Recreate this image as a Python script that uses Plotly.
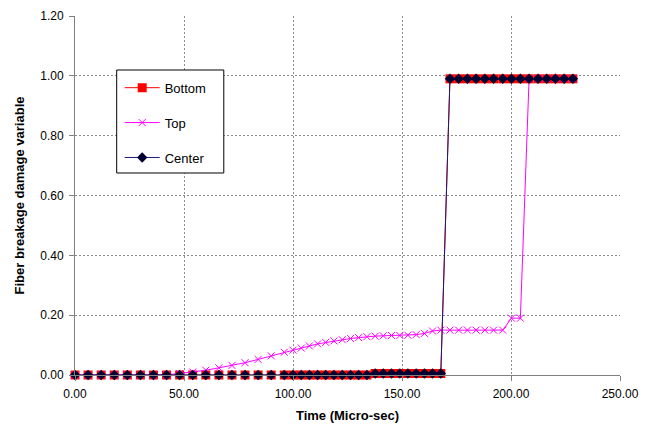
import plotly.graph_objects as go

# Time axis (micro-sec), shared by all three series
time = [0, 6, 12, 18, 24, 30, 36, 42, 48, 54, 60, 66, 72, 78, 84, 90, 96,
        100.0, 103.8, 107.5, 111.3, 115.0, 118.8, 122.6, 126.4, 130.1, 133.9,
        137.7, 141.4, 145.2, 149.0, 152.7, 156.5, 160.3, 164.0, 167.8,
        172.0, 176.0, 180.0, 184.0, 188.0, 192.0, 196.2, 200.2, 204.3, 208.3,
        212.4, 216.4, 220.4, 224.4, 228.4]

bottom = [0]*17 + [0]*10 + [0.005]*9 + [0.99]*15
center = [0]*17 + [0]*10 + [0.005]*9 + [0.99]*15
top = [0, 0, 0, 0, 0, 0, 0, 0.001, 0.005, 0.010, 0.016, 0.024, 0.032, 0.041, 0.052, 0.064, 0.076,
       0.083, 0.090, 0.097, 0.104, 0.109, 0.114, 0.118, 0.122, 0.125, 0.128,
       0.130, 0.131, 0.132, 0.132, 0.133, 0.135, 0.139, 0.147, 0.150,
       0.150, 0.150, 0.150, 0.150, 0.150, 0.150, 0.150, 0.190, 0.190, 0.99,
       0.99, 0.99, 0.99, 0.99, 0.99]

series_names = ["Bottom", "Top", "Center"]
x_ticks = [0, 50, 100, 150, 200, 250]
y_ticks = [0, 0.2, 0.4, 0.6, 0.8, 1.0, 1.2]

fig = go.Figure()
fig.add_trace(go.Scatter(
    x=time, y=bottom, name=series_names[0], mode="lines+markers", legendgroup="b",
    line=dict(color="#FF0000", width=1),
    marker=dict(symbol="square", size=9, color="#FF0000"),
    cliponaxis=False))
fig.add_trace(go.Scatter(
    x=time, y=top, name=series_names[1], mode="lines+markers", legendgroup="t",
    line=dict(color="#FF00FF", width=1),
    marker=dict(symbol="x-thin", size=7, color="#FF00FF",
                line=dict(width=1, color="#FF00FF")),
    cliponaxis=False))
fig.add_trace(go.Scatter(
    x=time, y=center, name=series_names[2], mode="lines+markers", legendgroup="c",
    line=dict(color="#1a1a80", width=1),
    marker=dict(symbol="diamond", size=8, color="#000033"),
    cliponaxis=False))

axis_font = dict(family="Liberation Sans, Arial, sans-serif", size=12, color="#000000")
grid_dash = "2px,2px"

fig.update_layout(
    width=655, height=430,
    margin=dict(l=75, r=35, t=16, b=55, autoexpand=False),
    paper_bgcolor="white", plot_bgcolor="white",
    font=axis_font,
    showlegend=True,
    legend=dict(
        x=0.082, y=0.842, xanchor="left", yanchor="top",
        bgcolor="rgba(0,0,0,0)", borderwidth=0,
        font=dict(family="Liberation Sans, Arial, sans-serif", size=13, color="#000000"),
        tracegroupgap=15,
        itemwidth=35,
    ),
    shapes=[dict(type="rect", xref="paper", yref="paper",
                 x0=0.0765, x1=0.273, y0=0.5627, y1=0.8496,
                 line=dict(color="#000000", width=1), fillcolor="white",
                 layer="above")],
    xaxis=dict(
        range=[0, 250], tickvals=x_ticks, tickformat=".2f",
        showgrid=True, gridcolor="#8c8c8c", griddash=grid_dash, gridwidth=1,
        showline=True, linecolor="#808080", linewidth=1,
        ticks="outside", ticklen=5, tickcolor="#808080",
        ticklabelstandoff=3, automargin=False,
        zeroline=False,
        title=dict(text="<b>Time (Micro-sec)</b>", font=dict(size=13), standoff=10),
    ),
    yaxis=dict(
        range=[0, 1.2], tickvals=y_ticks, tickformat=".2f",
        showgrid=True, gridcolor="#8c8c8c", griddash=grid_dash, gridwidth=1,
        showline=True, linecolor="#808080", linewidth=1,
        ticks="outside", ticklen=5, tickcolor="#808080",
        ticklabelstandoff=3, automargin=False,
        zeroline=False,
        title=dict(text="<b>Fiber breakage damage variable</b>", font=dict(size=13), standoff=12),
    ),
)

fig.write_html("out.html")
